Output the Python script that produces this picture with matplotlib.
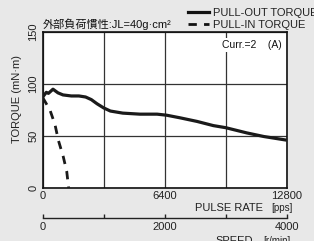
import matplotlib
matplotlib.use("Agg")
import matplotlib.pyplot as plt

plt.rcParams['font.family'] = ['Liberation Sans', 'Noto Sans CJK JP', 'DejaVu Sans']

# pull-out torque curve (pps, mN·m)
pullout_pps = [0, 190, 300, 540, 800, 1065, 1500, 1900, 2250, 2550, 2850, 3200,
               3550, 4200, 5100, 6000, 6500, 7200, 8100, 8950, 9600, 10700, 11600, 12800]
pullout_torque = [87.5, 92, 91, 95, 91.5, 89.5, 88.5, 88.5, 87.5, 85, 81, 77,
                  74, 72, 71, 71, 70, 67.5, 64, 60, 58, 53, 49.5, 46]

# pull-in torque curve
pullin_pps = [0, 380, 645, 820, 1080, 1260, 1360]
pullin_torque = [87, 75, 61, 46, 30, 16, 0]

pps_ticks = [0, 3200, 6400, 9600, 12800]
pps_labels = ['0', '', '6400', '', '12800']
torque_ticks = [0, 50, 100, 150]
speed_ticks = [0, 1000, 2000, 3000, 4000]
speed_labels = ['0', '', '2000', '', '4000']

W, H = 314, 241
bg = '#e8e8e8'
fig = plt.figure(figsize=(W / 100, H / 100), dpi=100, facecolor=bg)

def px(x, y):
    return x / W, 1 - y / H

l, b = px(42.7, 188)
r, t = px(286.7, 32)
ax = fig.add_axes([l, b, r - l, t - b])
ax.set_facecolor('white')

ax.plot(pullout_pps, pullout_torque, color='#1a1a1a', lw=2.3, solid_capstyle='butt', zorder=3)
ax.plot(pullin_pps, pullin_torque, color='#1a1a1a', lw=2.0, dashes=(3, 2.6), zorder=3)

ax.set_xlim(0, 12800)
ax.set_ylim(0, 150)
ax.set_xticks(pps_ticks)
ax.set_xticklabels(pps_labels)
ax.set_yticks(torque_ticks)
ax.set_yticklabels([str(v) for v in torque_ticks], rotation=90, va='center')
ax.tick_params(length=0, labelsize=8, colors='#222222', pad=3)
ax.tick_params(axis='x', pad=2)
ax.grid(True, color='#333333', lw=0.9)
ax.set_axisbelow(True)
for s in ax.spines.values():
    s.set_linewidth(1.2)
    s.set_color('#111111')

ax.set_ylabel('TORQUE (mN·m)', fontsize=8, color='#222222', labelpad=4)
ax.yaxis.set_label_coords(-0.085, 0.57)

# pulse rate label
fig.text(*px(195, 208), 'PULSE RATE', fontsize=8, color='#222222', va='center', ha='left')
fig.text(*px(293, 208), '[pps]', fontsize=7, color='#222222', va='center', ha='right')

# speed axis
sl, sb = px(42.7, 218)
ax2 = fig.add_axes([sl, sb, r - l, 0.001])
ax2.set_facecolor('none')
for k in ['top', 'left', 'right']:
    ax2.spines[k].set_visible(False)
ax2.spines['bottom'].set_linewidth(1.0)
ax2.spines['bottom'].set_color('#222222')
ax2.set_xlim(0, 4000)
ax2.set_yticks([])
ax2.set_xticks(speed_ticks)
ax2.set_xticklabels(speed_labels)
ax2.tick_params(axis='x', direction='in', length=3, width=1.0, labelsize=8,
                colors='#222222', pad=3)
fig.text(*px(215, 241.5), 'SPEED', fontsize=8, color='#222222', va='center', ha='left')
fig.text(*px(290, 241.5), '[r/min]', fontsize=7, color='#222222', va='center', ha='right')

# title
fig.text(*px(42.5, 24), '外部負荷慣性:JL=40g·cm²', fontsize=8, color='#111111',
         va='center', ha='left')

# legend
h1, = ax.plot([], [], color='#111111', lw=2.3)
h2, = ax.plot([], [], color='#111111', lw=2.0, dashes=(3, 2.6))
fig.legend([h1, h2], ['PULL-OUT TORQUE', 'PULL-IN TORQUE'], loc='upper left',
           bbox_to_anchor=px(180, 0.5), frameon=False, fontsize=8, handlelength=1.9,
           handletextpad=0.4, labelspacing=0.12, borderpad=0.2, labelcolor='#222222')

# current annotation
ax.text(*[(221.5 - 42.7) / 244, (188 - 45) / 156], 'Curr.=2    (A)', transform=ax.transAxes,
        fontsize=7.5, color='#111111', va='center', ha='left',
        bbox=dict(facecolor='white', edgecolor='none', pad=1.5), zorder=4)

fig.savefig('out.png', dpi=100, facecolor=bg)
